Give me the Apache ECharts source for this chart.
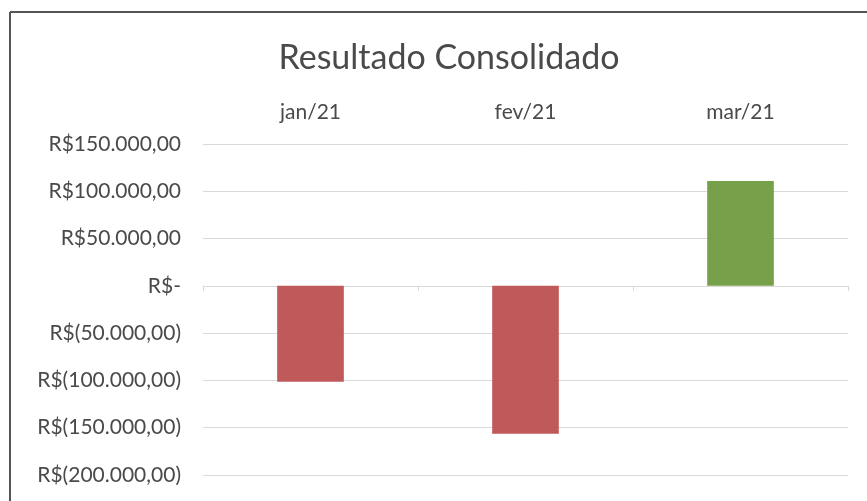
<!DOCTYPE html>
<html>
<head>
<meta charset="utf-8">
<script src="https://cdn.jsdelivr.net/npm/echarts@6/dist/echarts.min.js"></script>
<style>
html,body{margin:0;padding:0;background:#fff;}
#c{width:867px;height:501px;}
</style>
</head>
<body>
<div id="c"></div>
<script>
const categories = ['jan/21', 'fev/21', 'mar/21'];
const resultado = [-101500, -156500, 111000];
const yTicks = [-200000, -150000, -100000, -50000, 0, 50000, 100000, 150000];

const FONT = 'Lato, "Open Sans", sans-serif';
const TXT = '#4a4a4a';

function fmt(v) {
  if (v === 0) return 'R$-';
  const a = Math.abs(v);
  const s = a.toLocaleString('de-DE', {minimumFractionDigits: 2, maximumFractionDigits: 2});
  return v < 0 ? 'R$(' + s + ')' : 'R$' + s;
}

const chart = echarts.init(document.getElementById('c'), null, {renderer: 'canvas'});
chart.setOption({
  backgroundColor: '#ffffff',
  animation: false,
  title: {
    text: 'Resultado Consolidado',
    left: 444,
    textAlign: 'center',
    top: 36,
    textStyle: {fontFamily: FONT, fontSize: 34, fontWeight: 'normal', color: TXT}
  },
  grid: {left: 203, right: 19, top: 144, bottom: 26, containLabel: false},
  xAxis: [
    {
      type: 'category', data: categories, position: 'top',
      axisLine: {show: false, onZero: false}, axisTick: {show: false},
      axisLabel: {fontFamily: FONT, fontSize: 21, color: TXT, margin: 21}
    },
    {
      type: 'category', data: categories, position: 'bottom',
      axisLine: {show: true, onZero: true, lineStyle: {color: '#D9D9D9', width: 1}},
      axisTick: {show: true, length: 5, lineStyle: {color: '#D9D9D9'}},
      axisLabel: {show: false}
    }
  ],
  yAxis: {
    type: 'value', min: yTicks[0], max: yTicks[yTicks.length - 1], interval: 50000,
    axisLine: {show: false}, axisTick: {show: false},
    splitLine: {lineStyle: {color: '#D9D9D9', width: 1}},
    axisLabel: {fontFamily: FONT, fontSize: 21, color: TXT, margin: 22, formatter: fmt}
  },
  series: [{
    type: 'bar',
    xAxisIndex: 0,
    barWidth: '31%',
    data: resultado.map(v => ({value: v, itemStyle: {color: v < 0 ? '#C0595A' : '#77A04A'}}))
  }],
  graphic: [
    {type: 'line', shape: {x1: 10, y1: 12, x2: 867, y2: 12}, style: {stroke: '#555', lineWidth: 2}},
    {type: 'line', shape: {x1: 10, y1: 12, x2: 10, y2: 501}, style: {stroke: '#555', lineWidth: 2}}
  ]
});
</script>
</body>
</html>
